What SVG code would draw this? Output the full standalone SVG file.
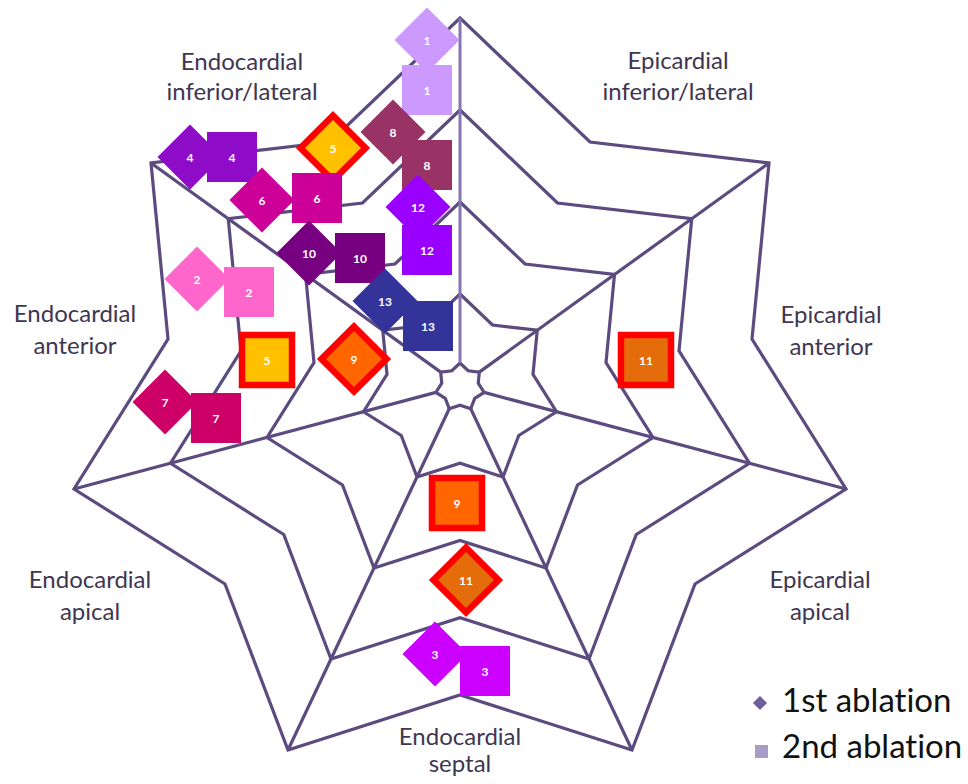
<svg xmlns="http://www.w3.org/2000/svg" width="968" height="784" viewBox="0 0 968 784">
<defs>
<style>
.ring{fill:none;stroke:#5b4b7f;stroke-width:3.2;stroke-linejoin:miter}
.spoke{stroke:#5b4b7f;stroke-width:3.2}
.axis{stroke:#8675b4;stroke-width:3}
text{font-variant-ligatures:none}
.lbl{font-family:Lato,"Open Sans",sans-serif;font-size:24px;fill:#3f3652;text-anchor:middle}
.num{font-family:Lato,"Open Sans",sans-serif;font-size:12px;font-weight:bold;fill:#ffffff;text-anchor:middle;dominant-baseline:central}
.leg{font-family:Lato,"Open Sans",sans-serif;font-size:33px;fill:#111111}
.hl{stroke:#ff0000;stroke-width:6.5;stroke-linejoin:miter}
</style>
<rect id="sq" x="-25" y="-25" width="50" height="50"/>
<rect id="dm" x="-23" y="-23" width="46" height="46" transform="rotate(45)"/>
</defs>
<rect width="968" height="784" fill="#ffffff"/>
<g id="connectors">
<polygon class="ring" points="460,18 590,142 769,163 752,339 846,489 695,584 632,750 460,695 288,750 225,584 74,489 168,339 151,163 330,142"/>
<polygon class="ring" points="460,110 557.5,203 691.75,218.75 679,350.75 749.5,463.25 636.25,534.5 589,659 460,617.75 331,659 283.75,534.5 170.5,463.25 241,350.75 228.25,218.75 362.5,203"/>
<polygon class="ring" points="460,202 525,264 614.5,274.5 606,362.5 653,437.5 577.5,485 546,568 460,540.5 374,568 342.5,485 267,437.5 314,362.5 305.5,274.5 395,264"/>
<polygon class="ring" points="460,294 492.5,325 537.25,330.25 533,374.25 556.5,411.75 518.75,435.5 503,477 460,463.25 417,477 401.25,435.5 363.5,411.75 387,374.25 382.75,330.25 427.5,325"/>
<polygon class="ring" points="460,363 468.1,370.75 479.3,372.1 478.25,383.1 484.1,392.4 474.7,398.4 470.75,408.75 460,405.3 449.25,408.75 445.3,398.4 435.9,392.4 441.75,383.1 440.7,372.1 451.9,370.75"/>
<line class="spoke" x1="479.3" y1="372.1" x2="769" y2="163"/>
<line class="spoke" x1="484.1" y1="392.4" x2="846" y2="489"/>
<line class="spoke" x1="470.75" y1="408.75" x2="632" y2="750"/>
<line class="spoke" x1="449.25" y1="408.75" x2="288" y2="750"/>
<line class="spoke" x1="435.9" y1="392.4" x2="74" y2="489"/>
<line class="spoke" x1="440.7" y1="372.1" x2="151" y2="163"/>
<line class="axis" x1="460" y1="363" x2="460" y2="18"/>
</g>
<g id="labels">
<text class="lbl" x="242" y="70">Endocardial</text>
<text class="lbl" x="242" y="100">inferior/lateral</text>
<text class="lbl" x="678" y="69">Epicardial</text>
<text class="lbl" x="678" y="100">inferior/lateral</text>
<text class="lbl" x="75" y="322">Endocardial</text>
<text class="lbl" x="75" y="354">anterior</text>
<text class="lbl" x="831" y="323">Epicardial</text>
<text class="lbl" x="831" y="355">anterior</text>
<text class="lbl" x="90" y="588">Endocardial</text>
<text class="lbl" x="90" y="620">apical</text>
<text class="lbl" x="820" y="588">Epicardial</text>
<text class="lbl" x="820" y="620">apical</text>
<text class="lbl" x="460" y="745">Endocardial</text>
<text class="lbl" x="460" y="772">septal</text>
</g>
<g id="p1" fill="#cc99ff">
<use href="#dm" x="427" y="40"/><text class="num" x="427" y="40">1</text>
<use href="#sq" x="427" y="90"/><text class="num" x="427" y="90">1</text>
</g>
<g id="p2" fill="#ff66cc">
<use href="#dm" x="197" y="279"/><text class="num" x="197" y="279">2</text>
<use href="#sq" x="249" y="292"/><text class="num" x="249" y="292">2</text>
</g>
<g id="p3" fill="#cc00ff">
<use href="#dm" x="435" y="654"/><text class="num" x="435" y="654">3</text>
<use href="#sq" x="485" y="671"/><text class="num" x="485" y="671">3</text>
</g>
<g id="p4" fill="#8e0cc8">
<use href="#dm" x="190" y="157"/><text class="num" x="190" y="157">4</text>
<use href="#sq" x="232" y="157"/><text class="num" x="232" y="157">4</text>
</g>
<g id="p5" fill="#ffc000">
<use href="#dm" class="hl" x="333" y="148"/><text class="num" x="333" y="148">5</text>
<use href="#sq" class="hl" x="267" y="360"/><text class="num" x="267" y="360">5</text>
</g>
<g id="p6" fill="#cc0099">
<use href="#dm" x="262" y="200"/><text class="num" x="262" y="200">6</text>
<use href="#sq" x="317" y="198"/><text class="num" x="317" y="198">6</text>
</g>
<g id="p7" fill="#cc0066">
<use href="#dm" x="165" y="402"/><text class="num" x="165" y="402">7</text>
<use href="#sq" x="216" y="418"/><text class="num" x="216" y="418">7</text>
</g>
<g id="p8" fill="#993366">
<use href="#dm" x="393" y="132"/><text class="num" x="393" y="132">8</text>
<use href="#sq" x="427" y="165"/><text class="num" x="427" y="165">8</text>
</g>
<g id="p9" fill="#ff6600">
<use href="#dm" class="hl" x="354" y="359"/><text class="num" x="354" y="359">9</text>
<use href="#sq" class="hl" x="457" y="503"/><text class="num" x="457" y="503">9</text>
</g>
<g id="p10" fill="#770080">
<use href="#dm" x="309" y="253"/><text class="num" x="309" y="253">10</text>
<use href="#sq" x="360" y="258"/><text class="num" x="360" y="258">10</text>
</g>
<g id="p11" fill="#e46c0a">
<use href="#dm" class="hl" x="466" y="580"/><text class="num" x="466" y="580">11</text>
<use href="#sq" class="hl" x="646" y="360"/><text class="num" x="646" y="360">11</text>
</g>
<g id="p12" fill="#9900ff">
<use href="#dm" x="418" y="207"/><text class="num" x="418" y="207">12</text>
<use href="#sq" x="427" y="250"/><text class="num" x="427" y="250">12</text>
</g>
<g id="p13" fill="#333399">
<use href="#dm" x="385" y="301"/><text class="num" x="385" y="301">13</text>
<use href="#sq" x="428" y="326"/><text class="num" x="428" y="326">13</text>
</g>
<g id="legend">
<rect x="-5" y="-5" width="10" height="10" fill="#6f5f9c" transform="translate(760,703) rotate(45)"/>
<text class="leg" x="782" y="712">1st ablation</text>
<rect x="755" y="745" width="13" height="13" fill="#a89cc8"/>
<text class="leg" x="782" y="758">2nd ablation</text>
</g>
</svg>
